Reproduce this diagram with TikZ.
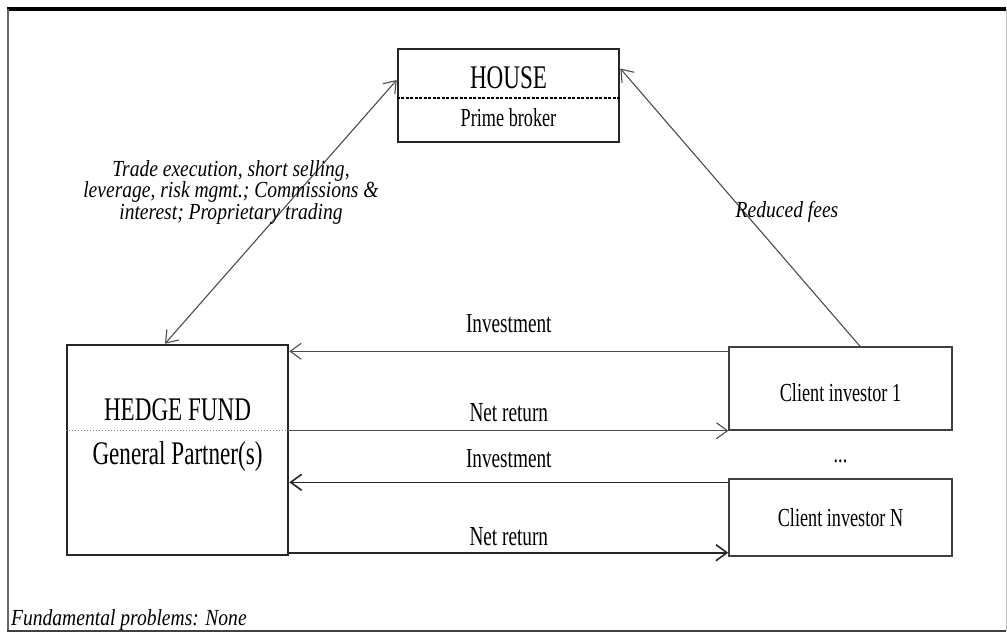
\documentclass[tikz,border=0pt]{standalone}
\usepackage{fontspec}
\setmainfont{Liberation Serif}[FakeStretch=0.7]
\newfontfamily\slantfont{Liberation Serif}[FakeStretch=0.85]
\usetikzlibrary{arrows.meta}
\usetikzlibrary{positioning}
\tikzset{box/.style = {draw=black!85, line width=2.6pt, inner sep=0pt},
         clientbox/.style = {draw=black!75, line width=1.4pt, inner sep=0pt},
         conn/.style = {draw=black!70, line width=1.1pt},
         darkconn/.style = {draw=black!85, line width=1.6pt},
         bigtext/.style = {inner sep=0pt, font=\fontsize{33}{36}\selectfont},
         midtext/.style = {inner sep=0pt, font=\fontsize{26}{29}\selectfont},
         flowlabel/.style = {inner sep=0pt, font=\fontsize{27.5}{30}\selectfont},
         note/.style = {inner sep=0pt, font=\slantfont\itshape\fontsize{23}{21.5}\selectfont}}

\begin{document}
\begin{tikzpicture}[x=1pt, y=-1pt, >={Straight Barb[length=11pt, width=16pt]}]
     \useasboundingbox (0, 0) rectangle (1007, 633);
     % frame
     \draw [line width=4pt] (7, 9) -- (1006, 9);
     \draw [line width=2pt, black!60] (8, 9) -- (8, 631);
     \draw [line width=2.5pt, black!75] (7, 631) -- (1006, 631);
     \draw [line width=1pt, black!25] (1006, 9) -- (1006, 631);
     % boxes
     \node [box, minimum width=221pt, minimum height=93pt] (house) at (508.5, 95.5) {};
     \node [box, minimum width=221pt, minimum height=210pt] (hedge) at (177.5, 450) {};
     \node [clientbox, minimum width=223pt, minimum height=83pt] (client1) at (840.5, 388.5) {};
     \node [clientbox, minimum width=223pt, minimum height=77pt] (clientN) at (840.5, 517.5) {};
     \draw [line width=1.2pt, dash pattern=on 3pt off 1.5pt] ([yshift=-2.5pt]house.west) -- ([yshift=-2.5pt]house.east);
     \draw [line width=1pt, black!50, dash pattern=on 1.5pt off 1.5pt] ([yshift=20pt]hedge.west) -- ([yshift=20pt]hedge.east);
     \node [bigtext] (houseTitle) at (508.5, 78) {HOUSE};
     \node [midtext] (houseSub) at (508.5, 118) {Prime broker};
     \node [bigtext] (hedgeTitle) at (177.5, 410) {HEDGE FUND};
     \node [bigtext] (hedgeSub) at (177.5, 457) {General Partner(s)};
     \node [midtext] (client1Name) at (840.5, 393) {Client investor 1};
     \node [midtext] (clientNName) at (840.5, 518) {Client investor N};
     \node [midtext] (dots) at (840.5, 461) {...};
     % links to the prime broker
     \draw [<->, conn] ([xshift=-12.5pt]hedge.north) -- ([yshift=15.5pt]house.west);
     \draw [->, conn] ([xshift=19.5pt]client1.north) -- ([yshift=27pt]house.east);
     \node [note, align=center] (serviceLabel) at (231, 192) {Trade execution, short selling,\\ leverage, risk mgmt.; Commissions \&\\ interest; Proprietary trading};
     \node [note] (feesLabel) at (787, 212) {Reduced fees};
     % money flows
     \coordinate (inv1) at ([yshift=-5pt]client1.north west);
     \coordinate (invN) at ([yshift=-4pt]clientN.north west);
     \coordinate (retN) at ([yshift=4pt]clientN.south west);
     \draw [->, conn] (inv1) -- (inv1 -| hedge.east) node [flowlabel, midway, above=18pt] {Investment};
     \draw [->, conn] (client1.south west -| hedge.east) -- (client1.south west) node [flowlabel, midway, above=8pt] {Net return};
     \draw [->, darkconn] (invN) -- (invN -| hedge.east) node [flowlabel, midway, above=14pt] {Investment};
     \draw [->, darkconn] (retN -| hedge.east) -- (retN) node [flowlabel, midway, above=6pt] {Net return};
     \node [note, anchor=west] (problems) at (11, 620) {Fundamental problems: None};
\end{tikzpicture}
\end{document}
